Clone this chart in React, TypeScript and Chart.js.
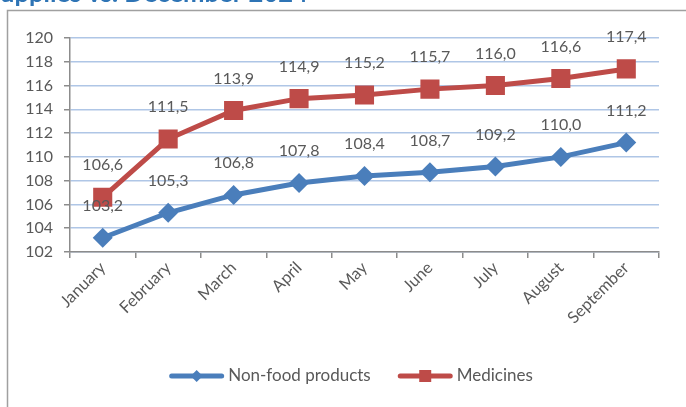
import React, { useEffect, useRef } from "react";
import { Chart, registerables } from "chart.js";

Chart.register(...registerables);

const months = ["January", "February", "March", "April", "May", "June", "July", "August", "September"];
const nonFood = [103.2, 105.3, 106.8, 107.8, 108.4, 108.7, 109.2, 110.0, 111.2];
const medicines = [106.6, 111.5, 113.9, 114.9, 115.2, 115.7, 116.0, 116.6, 117.4];
const seriesNames = ["Non-food products", "Medicines"];
const titleText = "upplies vs. December 2024";

const BLUE = "#4A7EBB";
const RED = "#BE4B48";
const TXT = "#595959";
const AXIS = "#8C8C8C";
const FONT = "Lato, 'Open Sans', sans-serif";

const fmt = (v: number) => v.toFixed(1).replace(".", ",");

const framePlugin = {
  id: "frame",
  beforeDraw(chart: any) {
    const ctx = chart.ctx;
    ctx.save();
    ctx.fillStyle = "#ffffff";
    ctx.fillRect(0, 0, chart.width, chart.height);
    ctx.strokeStyle = "#A0A0A0";
    ctx.lineWidth = 1.5;
    ctx.strokeRect(7.5, 10.5, chart.width + 20, chart.height + 20);
    ctx.fillStyle = "#2E74B5";
    let size = 20;
    ctx.font = `bold ${size}px ${FONT}`;
    const w = ctx.measureText(titleText).width;
    size = size * 308 / w;
    ctx.font = `bold ${size}px ${FONT}`;
    ctx.textBaseline = "alphabetic";
    ctx.textAlign = "left";
    ctx.fillText(titleText, 0, 2);
    ctx.restore();
  },
};

const labelsPlugin = {
  id: "valueLabels",
  afterDatasetsDraw(chart: any) {
    const ctx = chart.ctx;
    ctx.save();
    ctx.font = `16px ${FONT}`;
    ctx.fillStyle = TXT;
    ctx.textAlign = "center";
    ctx.textBaseline = "middle";
    chart.data.datasets.forEach((ds: any, di: number) => {
      const meta = chart.getDatasetMeta(di);
      meta.data.forEach((el: any, i: number) => {
        ctx.fillText(fmt(ds.data[i]), el.x, el.y - 32);
      });
    });
    ctx.restore();
  },
};

const legendPlugin = {
  id: "customLegend",
  afterDraw(chart: any) {
    const ctx = chart.ctx;
    ctx.save();
    ctx.font = `17px ${FONT}`;
    const sample = 55;
    const gapText = 4;
    const gapItems = 27;
    const widths = seriesNames.map((n) => ctx.measureText(n).width);
    const total = widths.reduce((a, b) => a + b, 0) + seriesNames.length * (sample + gapText) + gapItems * (seriesNames.length - 1);
    let x = 351 - total / 2;
    const y = 376;
    chart.data.datasets.forEach((ds: any, i: number) => {
      ctx.strokeStyle = ds.borderColor;
      ctx.lineWidth = 5;
      ctx.lineCap = "round";
      ctx.beginPath();
      ctx.moveTo(x + 2.5, y);
      ctx.lineTo(x + sample - 2.5, y);
      ctx.stroke();
      const cx = x + sample / 2;
      ctx.fillStyle = ds.borderColor;
      ctx.beginPath();
      if (ds.pointStyle === "rectRot") {
        const r = 6;
        ctx.moveTo(cx, y - r);
        ctx.lineTo(cx + r, y);
        ctx.lineTo(cx, y + r);
        ctx.lineTo(cx - r, y);
        ctx.closePath();
      } else {
        const s = 6;
        ctx.rect(cx - s, y - s, 2 * s, 2 * s);
      }
      ctx.fill();
      ctx.fillStyle = TXT;
      ctx.textAlign = "left";
      ctx.textBaseline = "middle";
      ctx.fillText(seriesNames[i], x + sample + gapText, y);
      x += sample + gapText + widths[i] + gapItems;
    });
    ctx.restore();
  },
};

export default function App() {
  const ref = useRef<HTMLCanvasElement>(null);
  useEffect(() => {
    if (!ref.current) return;
    const chart = new Chart(ref.current, {
      type: "line",
      data: {
        labels: months,
        datasets: [
          {
            label: seriesNames[0],
            data: nonFood,
            borderColor: BLUE,
            backgroundColor: BLUE,
            borderWidth: 5,
            pointStyle: "rectRot",
            pointRadius: 10,
            pointBorderWidth: 0,
            pointBackgroundColor: BLUE,
            tension: 0,
          },
          {
            label: seriesNames[1],
            data: medicines,
            borderColor: RED,
            backgroundColor: RED,
            borderWidth: 5,
            pointStyle: "rect",
            pointRadius: 13.5,
            pointBorderWidth: 0,
            pointBackgroundColor: RED,
            tension: 0,
          },
        ],
      },
      options: {
        responsive: false,
        animation: false,
        layout: { padding: { top: 38, right: 27, left: 0, bottom: 0 } },
        plugins: {
          legend: { display: false },
          tooltip: { enabled: false },
          title: { display: false },
        },
        scales: {
          x: {
            type: "category",
            offset: true,
            grid: {
              display: true,
              drawOnChartArea: false,
              offset: true,
              tickLength: 6,
              color: AXIS,
              lineWidth: 1.5,
            },
            border: { color: AXIS, width: 1.5 },
            ticks: {
              minRotation: 45,
              maxRotation: 45,
              autoSkip: false,
              color: TXT,
              font: { family: FONT, size: 16.5 },
              padding: 0,
            },
            afterFit: (s: any) => {
              s.height = 155;
            },
          },
          y: {
            min: 102,
            max: 120,
            ticks: {
              stepSize: 2,
              color: TXT,
              font: { family: FONT, size: 16 },
              padding: 11,
            },
            grid: {
              color: "#AFC6E6",
              lineWidth: 1.5,
              tickLength: 6,
              tickColor: AXIS,
            },
            border: { color: AXIS, width: 1.5 },
            afterFit: (s: any) => {
              s.width = 70;
            },
          },
        },
      },
      plugins: [framePlugin, labelsPlugin, legendPlugin],
    });
    return () => chart.destroy();
  }, []);
  return (
    <div style={{ position: "absolute", left: 0, top: 0, width: 686, height: 407 }}>
      <canvas ref={ref} width={686} height={407} style={{ display: "block" }} />
    </div>
  );
}
